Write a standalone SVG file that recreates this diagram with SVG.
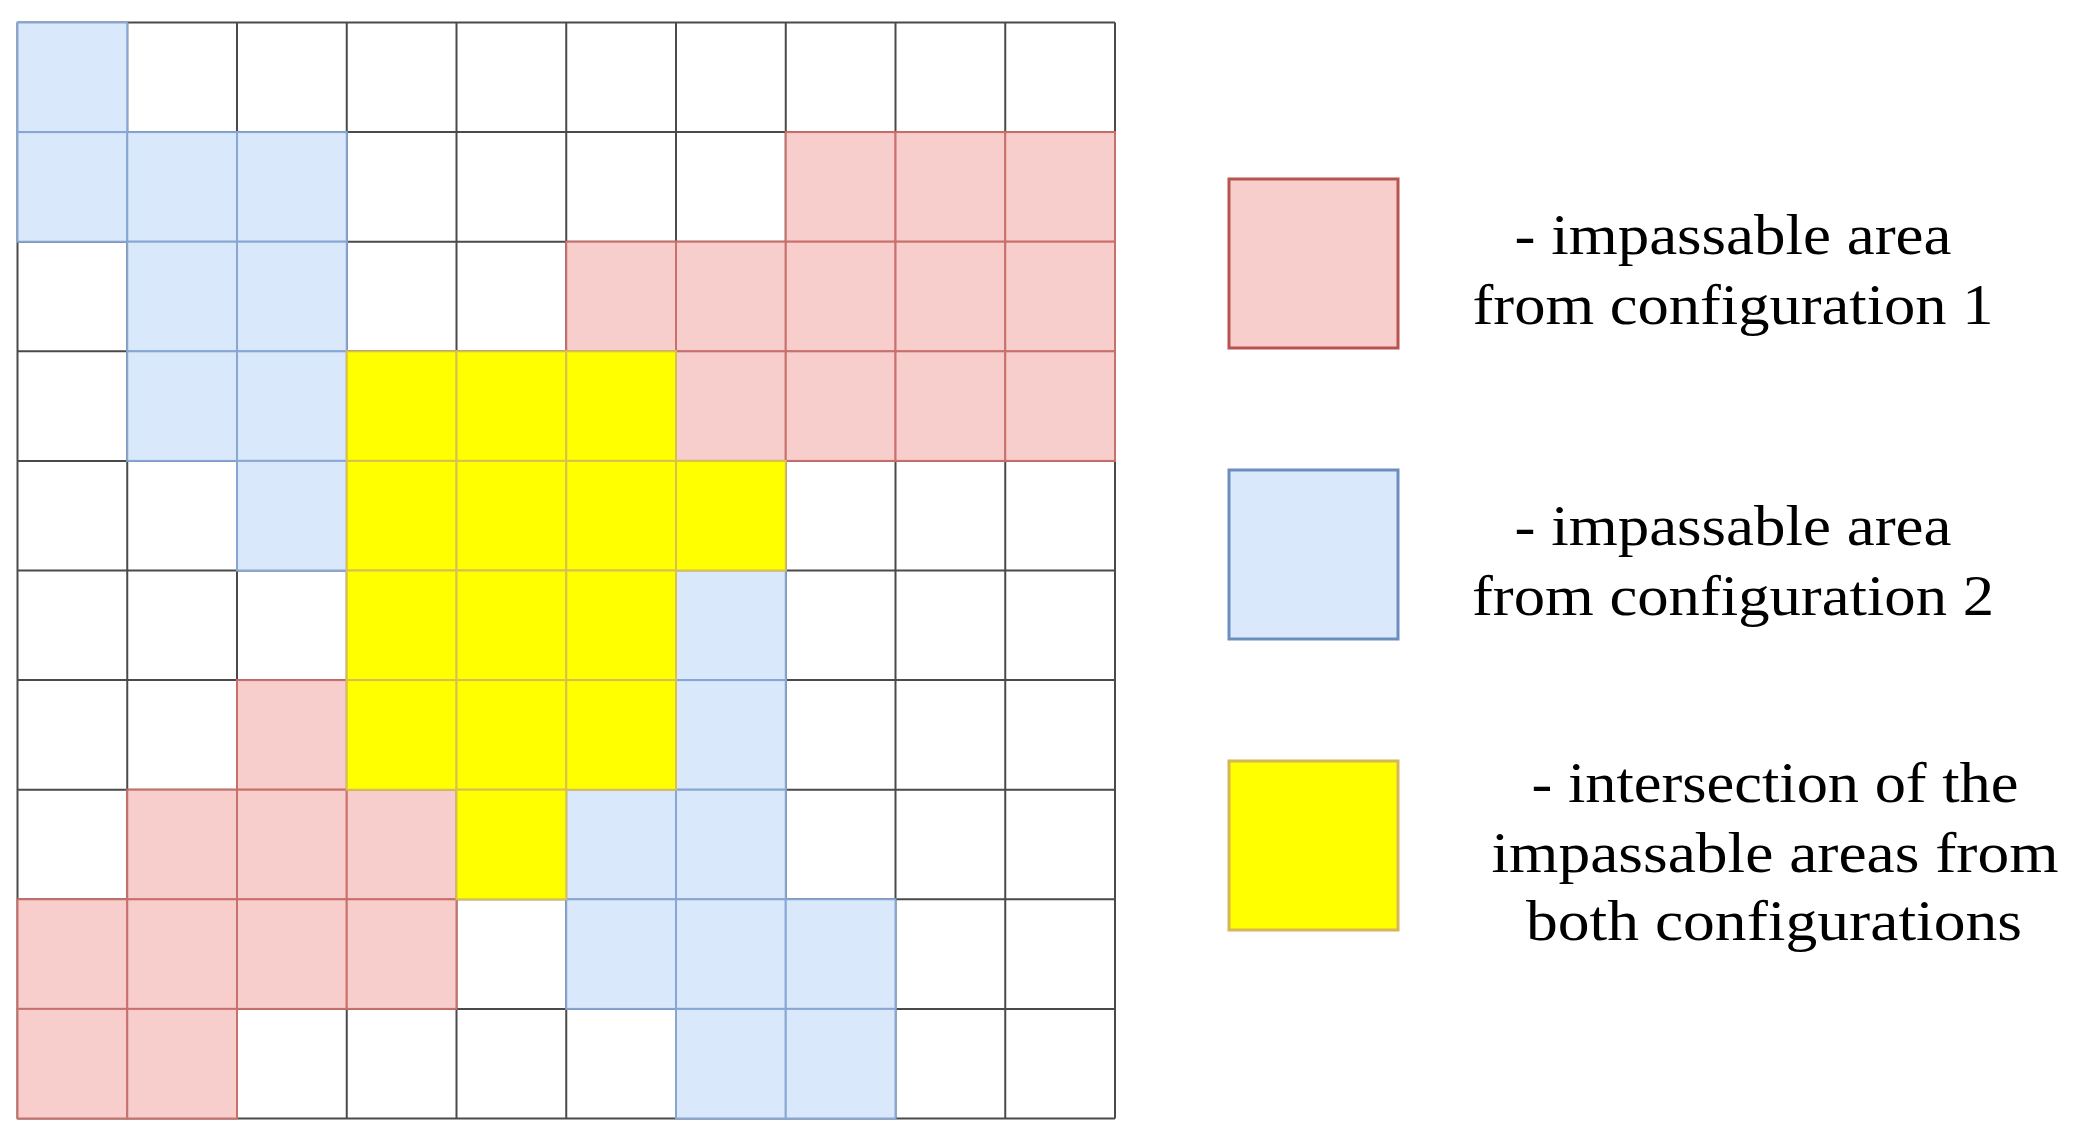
<svg xmlns="http://www.w3.org/2000/svg" width="2075" height="1146" viewBox="0 0 2075 1146">
<style>
.w{fill:#ffffff;stroke:#4a4a4a;stroke-width:2}
.r{fill:#f8cecc;stroke:#c8706c;stroke-width:2}
.b{fill:#dae8fc;stroke:#88a6d2;stroke-width:2}
.y{fill:#ffff00;stroke:#d8c050;stroke-width:2}
.rl{fill:#f8cecc;stroke:#b85450;stroke-width:3}
.bl{fill:#dae8fc;stroke:#6c8ebf;stroke-width:3}
.yl{fill:#ffff00;stroke:#d6b656;stroke-width:3}
text{font-family:"Liberation Serif","Times New Roman",serif;font-size:56px;fill:#000;text-anchor:middle}
</style>
<rect width="2075" height="1146" fill="#ffffff"/>
<defs>
<rect id="c" width="109.75" height="109.6"/>
</defs>
<g id="grid">
<g id="white-cells">
<path d="M17.5 22.5H1115V1118.5H17.5Z" fill="#fff" stroke="none"/>
<path d="M17.5 22.5V1118.5M127.25 22.5V1118.5M237 22.5V1118.5M346.75 22.5V1118.5M456.5 22.5V1118.5M566.25 22.5V1118.5M676 22.5V1118.5M785.75 22.5V1118.5M895.5 22.5V1118.5M1005.25 22.5V1118.5M1115 22.5V1118.5M17.5 22.5H1115M17.5 132.1H1115M17.5 241.7H1115M17.5 351.3H1115M17.5 460.9H1115M17.5 570.5H1115M17.5 680.1H1115M17.5 789.7H1115M17.5 899.3H1115M17.5 1008.9H1115M17.5 1118.5H1115" fill="none" stroke="#4a4a4a" stroke-width="2"/>
</g>
<g id="config1-cells">
<use href="#c" class="r" x="785.75" y="132.1"/>
<use href="#c" class="r" x="895.5" y="132.1"/>
<use href="#c" class="r" x="1005.25" y="132.1"/>
<use href="#c" class="r" x="566.25" y="241.7"/>
<use href="#c" class="r" x="676" y="241.7"/>
<use href="#c" class="r" x="785.75" y="241.7"/>
<use href="#c" class="r" x="895.5" y="241.7"/>
<use href="#c" class="r" x="1005.25" y="241.7"/>
<use href="#c" class="r" x="676" y="351.3"/>
<use href="#c" class="r" x="785.75" y="351.3"/>
<use href="#c" class="r" x="895.5" y="351.3"/>
<use href="#c" class="r" x="1005.25" y="351.3"/>
<use href="#c" class="r" x="237" y="680.1"/>
<use href="#c" class="r" x="127.25" y="789.7"/>
<use href="#c" class="r" x="237" y="789.7"/>
<use href="#c" class="r" x="346.75" y="789.7"/>
<use href="#c" class="r" x="17.5" y="899.3"/>
<use href="#c" class="r" x="127.25" y="899.3"/>
<use href="#c" class="r" x="237" y="899.3"/>
<use href="#c" class="r" x="346.75" y="899.3"/>
<use href="#c" class="r" x="17.5" y="1008.9"/>
<use href="#c" class="r" x="127.25" y="1008.9"/>
</g>
<g id="config2-cells">
<use href="#c" class="b" x="17.5" y="22.5"/>
<use href="#c" class="b" x="17.5" y="132.1"/>
<use href="#c" class="b" x="127.25" y="132.1"/>
<use href="#c" class="b" x="237" y="132.1"/>
<use href="#c" class="b" x="127.25" y="241.7"/>
<use href="#c" class="b" x="237" y="241.7"/>
<use href="#c" class="b" x="127.25" y="351.3"/>
<use href="#c" class="b" x="237" y="351.3"/>
<use href="#c" class="b" x="237" y="460.9"/>
<use href="#c" class="b" x="676" y="570.5"/>
<use href="#c" class="b" x="676" y="680.1"/>
<use href="#c" class="b" x="566.25" y="789.7"/>
<use href="#c" class="b" x="676" y="789.7"/>
<use href="#c" class="b" x="566.25" y="899.3"/>
<use href="#c" class="b" x="676" y="899.3"/>
<use href="#c" class="b" x="785.75" y="899.3"/>
<use href="#c" class="b" x="676" y="1008.9"/>
<use href="#c" class="b" x="785.75" y="1008.9"/>
</g>
<g id="intersection-cells">
<use href="#c" class="y" x="346.75" y="351.3"/>
<use href="#c" class="y" x="456.5" y="351.3"/>
<use href="#c" class="y" x="566.25" y="351.3"/>
<use href="#c" class="y" x="346.75" y="460.9"/>
<use href="#c" class="y" x="456.5" y="460.9"/>
<use href="#c" class="y" x="566.25" y="460.9"/>
<use href="#c" class="y" x="676" y="460.9"/>
<use href="#c" class="y" x="346.75" y="570.5"/>
<use href="#c" class="y" x="456.5" y="570.5"/>
<use href="#c" class="y" x="566.25" y="570.5"/>
<use href="#c" class="y" x="346.75" y="680.1"/>
<use href="#c" class="y" x="456.5" y="680.1"/>
<use href="#c" class="y" x="566.25" y="680.1"/>
<use href="#c" class="y" x="456.5" y="789.7"/>
</g>
</g>
<g id="legend-config1">
<rect class="rl" x="1229" y="179" width="169" height="169"/>
<text x="1733" y="254" textLength="437" lengthAdjust="spacingAndGlyphs">- impassable area</text>
<text x="1733" y="324" textLength="521" lengthAdjust="spacingAndGlyphs">from configuration 1</text>
</g>
<g id="legend-config2">
<rect class="bl" x="1229" y="470" width="169" height="169"/>
<text x="1733" y="545" textLength="437" lengthAdjust="spacingAndGlyphs">- impassable area</text>
<text x="1733" y="615" textLength="522" lengthAdjust="spacingAndGlyphs">from configuration 2</text>
</g>
<g id="legend-intersection">
<rect class="yl" x="1229" y="761" width="169" height="169"/>
<text x="1775" y="802" textLength="487" lengthAdjust="spacingAndGlyphs">- intersection of the</text>
<text x="1775" y="872" textLength="567" lengthAdjust="spacingAndGlyphs">impassable areas from</text>
<text x="1774" y="940" textLength="496" lengthAdjust="spacingAndGlyphs">both configurations</text>
</g>
</svg>
